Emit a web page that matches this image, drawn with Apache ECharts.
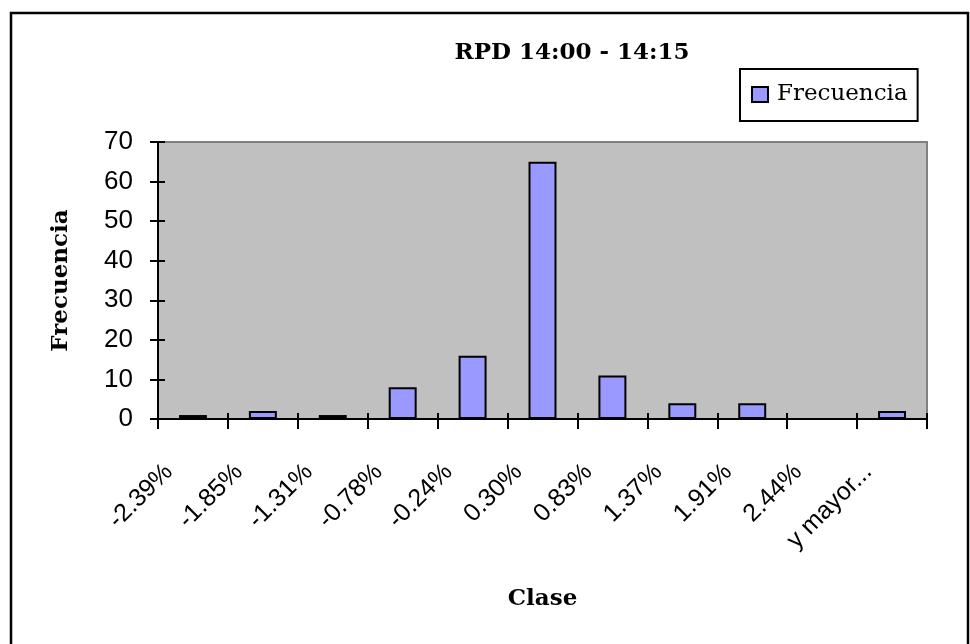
<!DOCTYPE html>
<html>
<head>
<meta charset="utf-8">
<title>RPD 14:00 - 14:15</title>
<script src="https://cdn.jsdelivr.net/npm/echarts@6/dist/echarts.min.js"></script>
<style>
  html, body { margin: 0; padding: 0; background: #ffffff; }
  #chart { width: 970px; height: 644px; }
</style>
</head>
<body>
<div id="chart"></div>
<script>
// Histogram classes (upper bound of each bin) and their counts
const clases = ['-2.39%', '-1.85%', '-1.31%', '-0.78%', '-0.24%', '0.30%', '0.83%', '1.37%', '1.91%', '2.44%', 'y mayor...'];
const frecuencia = [1, 2, 1, 8, 16, 65, 11, 4, 4, 0, 2];
const yTicks = [0, 10, 20, 30, 40, 50, 60, 70];

const titulo = 'RPD 14:00 - 14:15';
const serieNombre = 'Frecuencia';
const ejeX = 'Clase';
const ejeY = 'Frecuencia';

const serif = '"DejaVu Serif", "Liberation Serif", serif';
const sans = '"Liberation Sans", Arial, sans-serif';

const yMin = yTicks[0];
const yMax = yTicks[yTicks.length - 1];
const yStep = yTicks[1] - yTicks[0];

const chart = echarts.init(document.getElementById('chart'), null, { renderer: 'canvas' });

chart.setOption({
  animation: false,
  backgroundColor: '#ffffff',
  title: {
    text: titulo,
    left: 567,
    top: 37,
    textAlign: 'center',
    textStyle: { fontFamily: serif, fontWeight: 'bold', fontSize: 23, color: '#000' }
  },
  legend: {
    data: [serieNombre],
    icon: 'rect',
    left: 740,
    top: 69,
    orient: 'vertical',
    padding: [14, 10, 15, 11],
    itemWidth: 16,
    itemHeight: 15,
    backgroundColor: '#ffffff',
    borderColor: '#000000',
    borderWidth: 2,
    borderRadius: 0,
    textStyle: { fontFamily: serif, fontSize: 23, color: '#000', padding: [0, 0, 0, 4] }
  },
  grid: {
    left: 158,
    right: 43,
    top: 142,
    bottom: 225,
    show: true,
    backgroundColor: '#C0C0C0',
    borderColor: '#808080',
    borderWidth: 2
  },
  xAxis: [
    {
      type: 'category',
      data: clases,
      boundaryGap: true,
      name: ejeX,
      nameLocation: 'middle',
      nameGap: 169,
      nameTextStyle: { fontFamily: serif, fontWeight: 'bold', fontSize: 23, color: '#000' },
      axisLine: { lineStyle: { color: '#000', width: 2 } },
      axisTick: { show: true, alignWithLabel: false, length: 10, lineStyle: { color: '#000', width: 2 } },
      axisLabel: {
        interval: 0,
        rotate: 45,
        margin: 25,
        padding: [0, 34, 0, 0],
        fontFamily: sans,
        fontSize: 25,
        color: '#000'
      },
      splitLine: { show: false }
    },
    {
      // inner half of the crossing tick marks
      type: 'category',
      data: clases,
      position: 'bottom',
      boundaryGap: true,
      axisLine: { show: false },
      axisTick: { show: true, inside: true, length: 6, lineStyle: { color: '#000', width: 2 } },
      axisLabel: { show: false },
      splitLine: { show: false }
    }
  ],
  yAxis: [
    {
      type: 'value',
      min: yMin,
      max: yMax,
      interval: yStep,
      name: ejeY,
      nameLocation: 'middle',
      nameGap: 85,
      nameRotate: 90,
      nameTextStyle: { fontFamily: serif, fontWeight: 'bold', fontSize: 23, color: '#000' },
      axisLine: { show: true, lineStyle: { color: '#000', width: 2 } },
      axisTick: { show: true, length: 8, lineStyle: { color: '#000', width: 2 } },
      axisLabel: { margin: 25, fontFamily: sans, fontSize: 26, color: '#000' },
      splitLine: { show: false }
    },
    {
      type: 'value',
      min: yMin,
      max: yMax,
      interval: yStep,
      position: 'left',
      axisLine: { show: false },
      axisTick: { show: true, inside: true, length: 7, lineStyle: { color: '#000', width: 2 } },
      axisLabel: { show: false },
      splitLine: { show: false }
    }
  ],
  series: [
    {
      name: serieNombre,
      type: 'bar',
      data: frecuencia,
      xAxisIndex: 0,
      yAxisIndex: 0,
      barWidth: '40%',
      itemStyle: { color: '#9999FF', borderColor: '#000000', borderWidth: 2 },
      emphasis: { disabled: true }
    }
  ],
  graphic: [
    {
      // chart area frame
      type: 'rect',
      z: 100,
      silent: true,
      shape: { x: 11, y: 13, width: 957, height: 645 },
      style: { fill: 'none', stroke: '#000', lineWidth: 2.5 }
    }
  ]
});
</script>
</body>
</html>
